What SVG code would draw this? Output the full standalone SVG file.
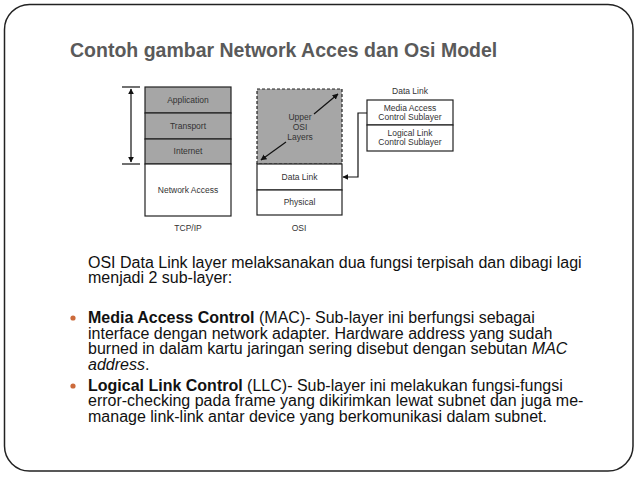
<svg xmlns="http://www.w3.org/2000/svg" width="638" height="479" viewBox="0 0 638 479">
<defs>
<marker id="ah" viewBox="0 0 10 10" refX="9" refY="5" markerWidth="5" markerHeight="5" orient="auto-start-reverse">
<path d="M0,0 L10,5 L0,10 z" fill="#111"/>
</marker>
<style>
.lbl{font-family:"Liberation Sans",Arial,sans-serif;font-size:8.5px;fill:#333;text-anchor:middle}
.box{stroke:#222;stroke-width:1.2}
.g{fill:#a6a6a6}
.w{fill:#fff}
.body{font-family:"Liberation Sans",Arial,sans-serif;font-size:16px;fill:#111}
.b{font-weight:bold}
.i{font-style:italic}
.conn{stroke:#111;stroke-width:1.2;fill:none}
</style>
</defs>
<rect x="0" y="0" width="638" height="479" fill="#fff"/>
<rect x="4.5" y="4.5" width="628.5" height="466.5" rx="25" ry="25" fill="#fff" stroke="#222" stroke-width="1.5"/>
<text x="70" y="57" font-family="Liberation Sans,Arial,sans-serif" font-size="19.5" font-weight="bold" fill="#5a5a5a">Contoh gambar Network Acces dan Osi Model</text>

<g id="tcpip">
<rect class="box g" x="145" y="87" width="86" height="26"/>
<rect class="box g" x="145" y="113" width="86" height="26"/>
<rect class="box g" x="145" y="139" width="86" height="25"/>
<rect class="box w" x="145" y="164" width="86" height="52"/>
<text class="lbl" x="188" y="103">Application</text>
<text class="lbl" x="188" y="129">Transport</text>
<text class="lbl" x="188" y="154">Internet</text>
<text class="lbl" x="188" y="193">Network Access</text>
<text class="lbl" x="188" y="231">TCP/IP</text>
</g>

<g id="osi">
<rect x="257" y="89" width="85" height="75" fill="#a6a6a6" stroke="#222" stroke-width="1.2" stroke-dasharray="3,2"/>
<rect class="box w" x="257" y="164" width="85" height="26"/>
<rect class="box w" x="257" y="190" width="85" height="25"/>
<text class="lbl" x="300" y="120">Upper</text>
<text class="lbl" x="300" y="130">OSI</text>
<text class="lbl" x="300" y="140">Layers</text>
<text class="lbl" x="299.5" y="180">Data Link</text>
<text class="lbl" x="299.5" y="205">Physical</text>
<text class="lbl" x="299" y="231">OSI</text>
</g>

<g id="datalink">
<text class="lbl" x="410" y="94">Data Link</text>
<rect class="box w" x="367" y="100" width="86" height="25"/>
<rect class="box w" x="367" y="125" width="86" height="26"/>
<text class="lbl" x="410" y="111">Media Access</text>
<text class="lbl" x="410" y="120">Control Sublayer</text>
<text class="lbl" x="410" y="136">Logical Link</text>
<text class="lbl" x="410" y="145">Control Sublayer</text>
</g>

<g id="connectors">
<line class="conn" x1="131" y1="89" x2="131" y2="162" marker-start="url(#ah)" marker-end="url(#ah)"/>
<line class="conn" x1="122" y1="87" x2="140" y2="87"/>
<line class="conn" x1="122" y1="164" x2="140" y2="164"/>
<line class="conn" x1="286" y1="142" x2="261" y2="160" marker-end="url(#ah)"/>
<line class="conn" x1="314" y1="114" x2="338" y2="94" marker-end="url(#ah)"/>
<polyline class="conn" points="367,113 358,113 358,177 343,177" marker-end="url(#ah)"/>
</g>

<g id="text">
<text class="body" x="88" y="268">OSI Data Link layer melaksanakan dua fungsi terpisah dan dibagi lagi</text>
<text class="body" x="88" y="283">menjadi 2 sub-layer:</text>
<circle cx="73" cy="318" r="2.6" fill="#cc6a3a"/>
<text class="body" x="88" y="323"><tspan class="b">Media Access Control</tspan> (MAC)- Sub-layer ini berfungsi sebagai</text>
<text class="body" x="88" y="339">interface dengan network adapter. Hardware address yang sudah</text>
<text class="body" x="88" y="354">burned in dalam kartu jaringan sering disebut dengan sebutan <tspan class="i">MAC</tspan></text>
<text class="body" x="88" y="370"><tspan class="i">address</tspan>.</text>
<circle cx="73" cy="386" r="2.6" fill="#cc6a3a"/>
<text class="body" x="88" y="391"><tspan class="b">Logical Link Control</tspan> (LLC)- Sub-layer ini melakukan fungsi-fungsi</text>
<text class="body" x="88" y="406">error-checking pada frame yang dikirimkan lewat subnet dan juga me-</text>
<text class="body" x="88" y="422">manage link-link antar device yang berkomunikasi dalam subnet.</text>
</g>
</svg>
